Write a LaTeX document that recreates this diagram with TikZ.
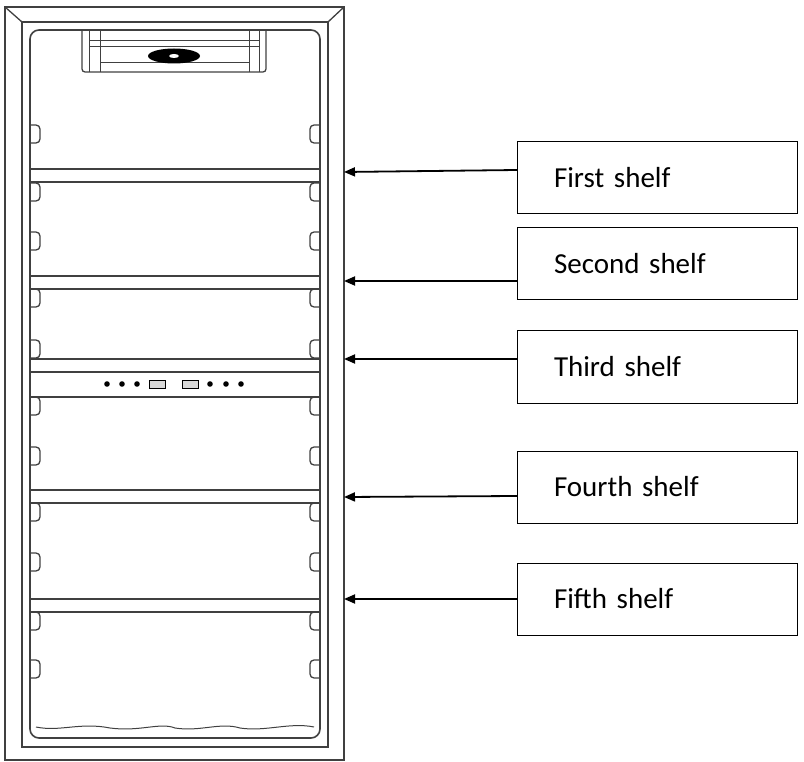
\documentclass[tikz,border=0pt]{standalone}
\usepackage{fontspec}
\setmainfont{Carlito}
\usetikzlibrary{arrows.meta,shapes.geometric}
\begin{document}
\begin{tikzpicture}[x=1pt,y=-1pt,
  ln/.style={draw=black!75,line width=1.3pt},
  box/.style={draw=black,line width=1pt,minimum width=280pt,minimum height=72pt,anchor=west,inner sep=0pt,text width=255pt,align=left,font=\fontsize{29}{30}\selectfont},
  arr/.style={-{Triangle[length=11pt,width=9pt]},line width=1.8pt}]
\useasboundingbox (0,0) rectangle (804,762);
% outer frame
\draw[ln] (5,7) rectangle (344,760);
\draw[ln] (22,22) -- (22,747) -- (328,747) -- (328,22) -- cycle;
\draw[ln] (5,7) -- (22,22) (344,7) -- (328,22);
% cabinet
\draw[ln,line width=1.6pt,rounded corners=9pt] (30,30) rectangle (320,738);
% top fixture
\draw[ln,rounded corners=3pt] (82,30) -- (82,72) -- (266,72) -- (266,30);
\draw[ln,line width=0.8pt] (89,30) -- (89,72) (100,30)--(100,72) (249,30)--(249,72) (259,30)--(259,72);
\draw[ln,line width=0.8pt] (89,40) -- (259,40) (89,46) -- (259,46) (100,62)--(249,62);
\node[draw=none,fill=black,ellipse,minimum width=52pt,minimum height=15pt,inner sep=0pt] (knob) at (174,56) {};
\node[fill=white,ellipse,minimum width=10pt,minimum height=4pt,inner sep=0pt] (knobc) at (174,56) {};
% shelves
\foreach \a in {169,276,359,490,599}{
  \draw[ln] (30,\a) rectangle (320,\a+13);
}
% control panel
\draw[ln] (30,372) rectangle (320,397);
\foreach \cx in {107,122,137,210,226,241}{\fill (\cx,384) circle (2.8pt);}
\foreach \cx in {157,190}{\draw[line width=1pt,fill=black!15] (\cx-8,380) rectangle (\cx+8,388);}
% brackets
\foreach \b in {125,183,232,289,340,397,447,503,553,612,660}{
  \draw[ln,rounded corners=4pt] (30,\b) -- (40,\b) -- (40,\b+18) -- (30,\b+18);
  \draw[ln,rounded corners=4pt] (320,\b) -- (310,\b) -- (310,\b+18) -- (320,\b+18);
}
% bottom wavy line
\draw[ln,line width=1pt] (36,727) .. controls (60,732) and (80,722) .. (110,728) .. controls (140,732) and (160,722) .. (175,728) .. controls (200,732) and (220,722) .. (240,728) .. controls (265,732) and (290,722) .. (314,727);
% labels
\node[box] (b1) at (517,178) {\hspace*{24pt}First shelf};
\node[box] (b2) at (517,264) {\hspace*{24pt}Second shelf};
\node[box] (b3) at (517,367) {\hspace*{24pt}Third shelf};
\node[box] (b4) at (517,487) {\hspace*{24pt}Fourth shelf};
\node[box] (b5) at (517,599) {\hspace*{24pt}Fifth shelf};
\coordinate (t1) at (344,172);
\coordinate (t2) at (344,281);
\coordinate (t3) at (344,359);
\coordinate (t4) at (344,497);
\coordinate (t5) at (344,599);
\draw[arr] (b1.west|-0,170) -- (t1);
\draw[arr] (b2.west|-0,281) -- (t2);
\draw[arr] (b3.west|-0,359) -- (t3);
\draw[arr] (b4.west|-0,496) -- (t4);
\draw[arr] (b5.west|-0,599) -- (t5);
\end{tikzpicture}
\end{document}
